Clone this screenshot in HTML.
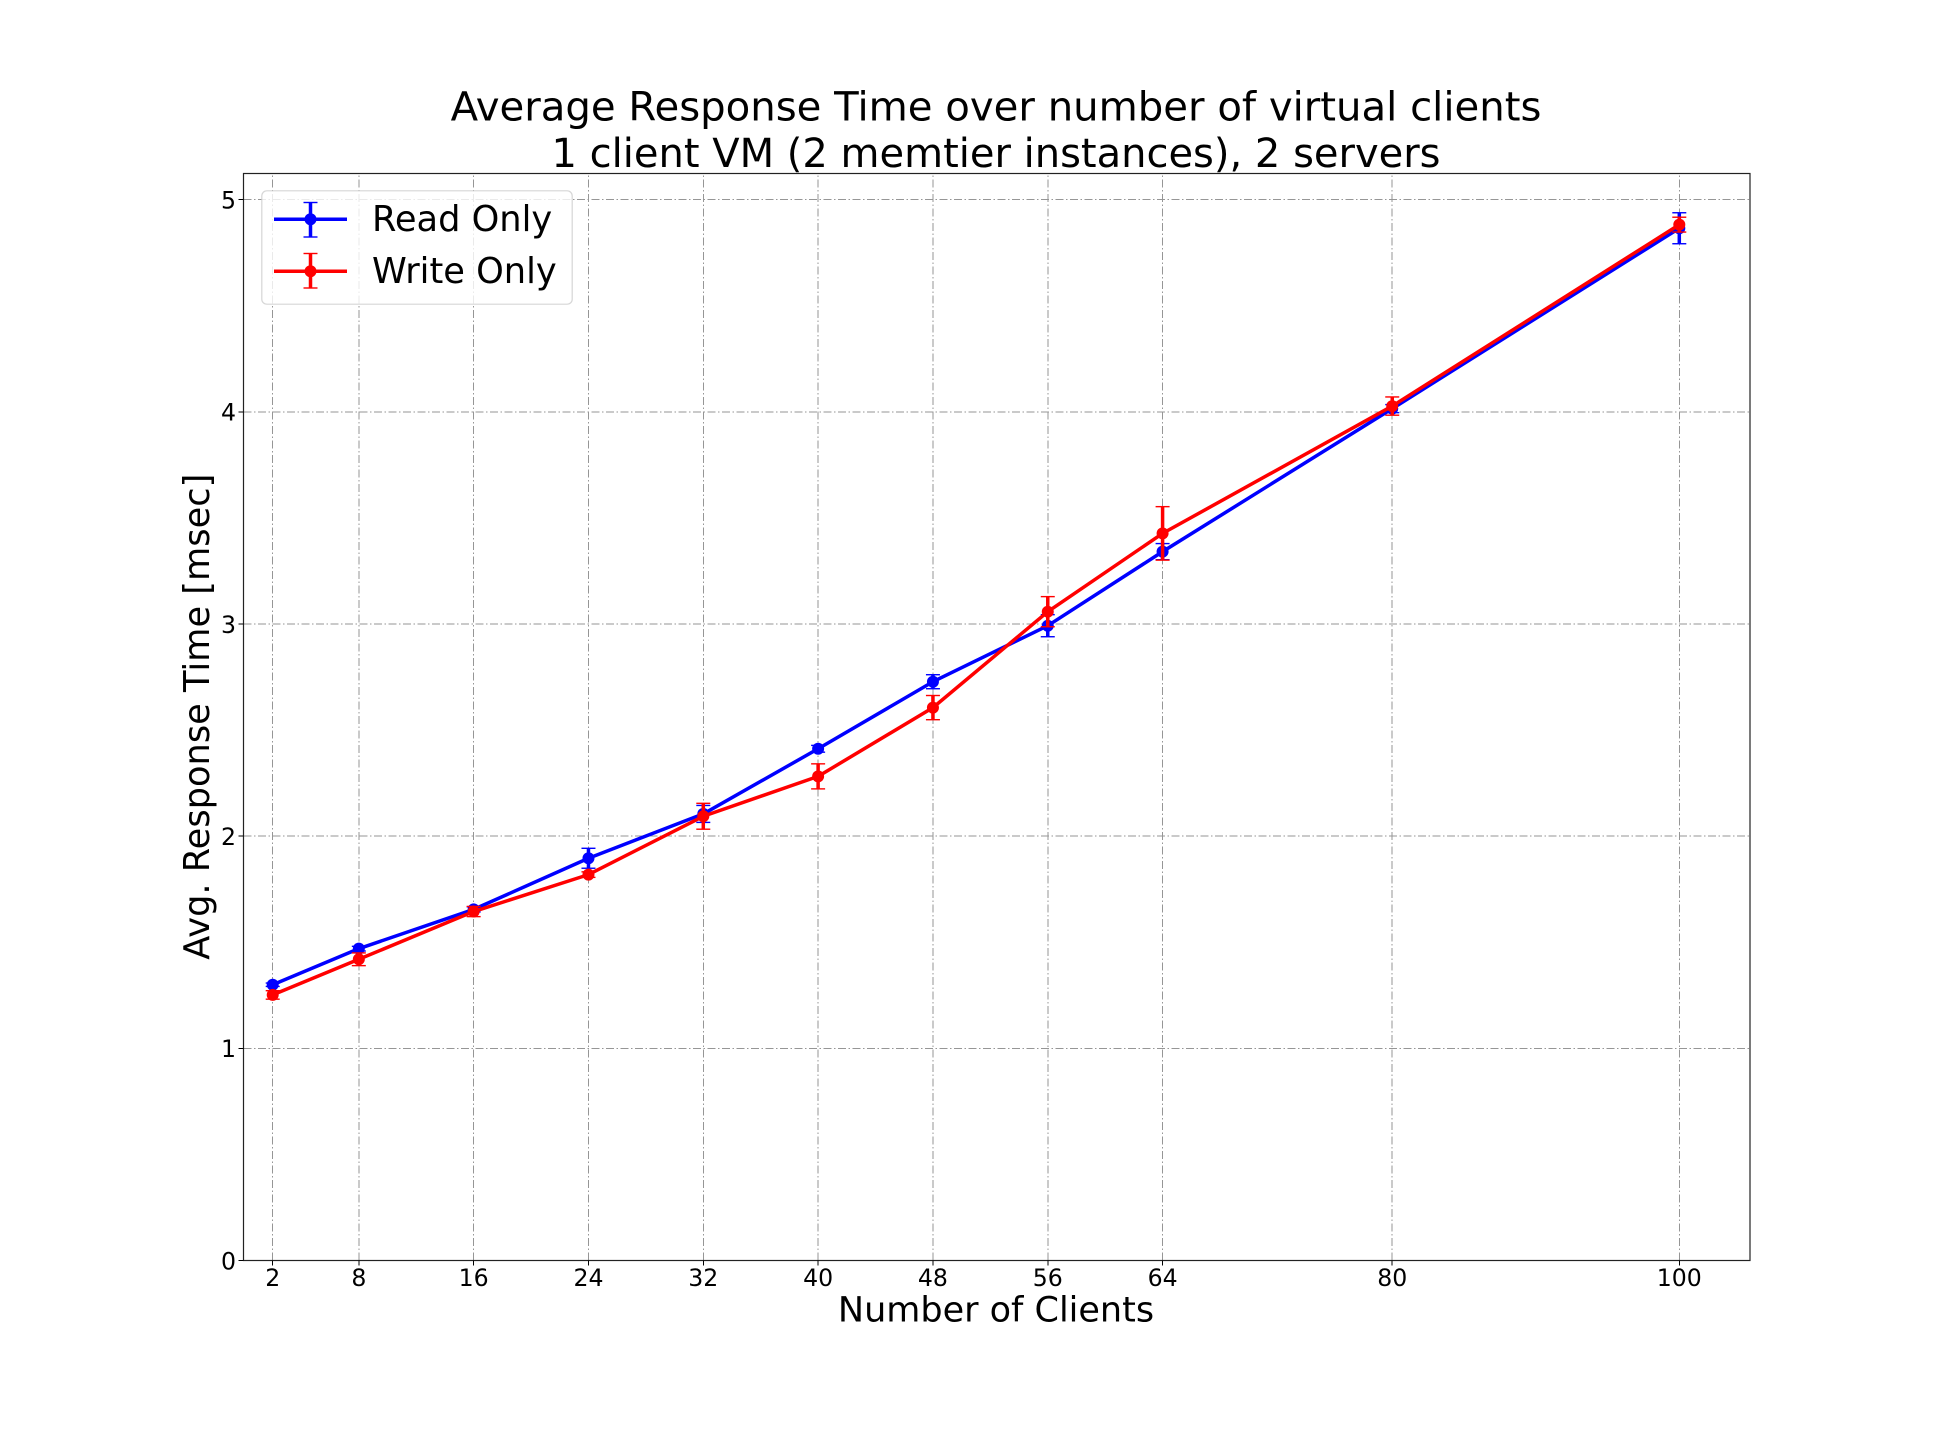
<!DOCTYPE html>
<html lang="en">
<head>
<meta charset="utf-8">
<title>Average Response Time over number of virtual clients</title>
<style>
html,body{margin:0;padding:0;background:#fff;}
svg{display:block;}
text{font-family:"DejaVu Sans","Liberation Sans",sans-serif;fill:#000;}
</style>
</head>
<body>
<svg id="chart" xmlns="http://www.w3.org/2000/svg" width="1944" height="1440" viewBox="0 0 1944 1440">
  <rect x="0" y="0" width="1944" height="1440" fill="#ffffff"/>
  <g id="grid"></g>
  <g id="series"></g>
  <rect x="243.5" y="173.5" width="1506.5" height="1087" fill="none" stroke="#222" stroke-width="1.2"/>
  <g id="ticks"></g>
  <text x="996" y="120.7" font-size="40.2" text-anchor="middle">Average Response Time over number of virtual clients</text>
  <text x="996" y="167" font-size="40.2" text-anchor="middle" textLength="889" lengthAdjust="spacingAndGlyphs">1 client VM (2 memtier instances), 2 servers</text>
  <text x="996" y="1321.6" font-size="35" text-anchor="middle">Number of Clients</text>
  <text x="209" y="716.7" font-size="35.2" text-anchor="middle" transform="rotate(-90 209 716.7)">Avg. Response Time [msec]</text>
  <g>
    <rect x="261.8" y="190.8" width="310.4" height="113.4" rx="5" ry="5" fill="#ffffff" fill-opacity="0.8" stroke="#cccccc" stroke-opacity="0.8" stroke-width="1.2"/>
    <g>
      <line x1="274" y1="219.3" x2="347" y2="219.3" stroke="#0000ff" stroke-width="3.5"/>
      <line x1="310.5" y1="202.5" x2="310.5" y2="237" stroke="#0000ff" stroke-width="3.5"/>
      <line x1="303.5" y1="202.5" x2="317.5" y2="202.5" stroke="#0000ff" stroke-width="1.4"/>
      <line x1="303.5" y1="237" x2="317.5" y2="237" stroke="#0000ff" stroke-width="1.4"/>
      <circle cx="310.5" cy="219.3" r="6" fill="#0000ff"/>
      <text x="372" y="231.2" font-size="35.2">Read Only</text>
    </g>
    <g>
      <line x1="274" y1="271.3" x2="347" y2="271.3" stroke="#ff0000" stroke-width="3.5"/>
      <line x1="310.5" y1="253.5" x2="310.5" y2="288" stroke="#ff0000" stroke-width="3.5"/>
      <line x1="303.5" y1="253.5" x2="317.5" y2="253.5" stroke="#ff0000" stroke-width="1.4"/>
      <line x1="303.5" y1="288" x2="317.5" y2="288" stroke="#ff0000" stroke-width="1.4"/>
      <circle cx="310.5" cy="271.3" r="6" fill="#ff0000"/>
      <text x="372" y="282.8" font-size="35.2">Write Only</text>
    </g>
  </g>
</svg>
<script>
const clients = [2, 8, 16, 24, 32, 40, 48, 56, 64, 80, 100];
const readValues = [1.30, 1.47, 1.655, 1.896, 2.105, 2.412, 2.728, 2.992, 3.341, 4.015, 4.865];
const readErrors = [0.008, 0.011, 0.012, 0.047, 0.04, 0.016, 0.033, 0.052, 0.038, 0.019, 0.073];
const writeValues = [1.252, 1.42, 1.645, 1.819, 2.094, 2.282, 2.606, 3.058, 3.427, 4.027, 4.882];
const writeErrors = [0.02, 0.03, 0.024, 0.013, 0.061, 0.059, 0.057, 0.071, 0.126, 0.043, 0.035];
const yTickValues = [0, 1, 2, 3, 4, 5];
const xTickLabels = ['2', '8', '16', '24', '32', '40', '48', '56', '64', '80', '100'];
const yTickLabels = ['0', '1', '2', '3', '4', '5'];

const NS = 'http://www.w3.org/2000/svg';
const plotLeft = 243.5, plotRight = 1750, plotTop = 173.5, plotBottom = 1260.5;
const xOrigin = 244, xPerUnit = 14.353, yOrigin = 1260.6, yPerUnit = 212.2;
const xScale = function (v) { return xOrigin + v * xPerUnit; };
const yScale = function (v) { return yOrigin - v * yPerUnit; };

function mk(tag, attrs, parent) {
  const node = document.createElementNS(NS, tag);
  Object.keys(attrs).forEach(function (k) { node.setAttribute(k, attrs[k]); });
  parent.appendChild(node);
  return node;
}

const gridLayer = document.getElementById('grid');
const tickLayer = document.getElementById('ticks');
const seriesLayer = document.getElementById('series');
const gridStyle = { stroke: '#969696', 'stroke-width': 1, 'stroke-dasharray': '8 2.5 1.5 2.5', fill: 'none', 'shape-rendering': 'crispEdges' };

clients.forEach(function (c, i) {
  const x = xScale(c);
  const g = mk('line', Object.assign({ x1: x, x2: x, y1: plotBottom, y2: plotTop }, gridStyle), gridLayer);
  
  
  const t = mk('line', { x1: x, x2: x, y1: plotBottom, y2: plotBottom + 5, stroke: '#000', 'stroke-width': 1, 'shape-rendering': 'crispEdges' }, tickLayer);
  
  
  const l = mk('text', { x: x, y: 1285.8, 'font-size': 23.6, 'text-anchor': 'middle' }, tickLayer);
  
  
  l.textContent = xTickLabels[i];
});

yTickValues.forEach(function (v, i) {
  const y = yScale(v);
  if (v > 0) {
    const g = mk('line', Object.assign({ x1: plotLeft, x2: plotRight, y1: y, y2: y }, gridStyle), gridLayer);
    
    
  }
  const t = mk('line', { x1: plotLeft - 5, x2: plotLeft, y1: y, y2: y, stroke: '#000', 'stroke-width': 1, 'shape-rendering': 'crispEdges' }, tickLayer);
  
  
  const l = mk('text', { x: 236, y: y + 8.8, 'font-size': 23.6, 'text-anchor': 'end' }, tickLayer);
  
  
  l.textContent = yTickLabels[i];
});

function drawSeries(values, errors, color, key) {
  const group = mk('g', {}, seriesLayer);
  
  
  const pts = clients.map(function (c, i) { return xScale(c) + ',' + yScale(values[i]); }).join(' ');
  const line = mk('polyline', { points: pts, fill: 'none', stroke: color, 'stroke-width': 3.5, 'stroke-linejoin': 'round' }, group);
  
  
  clients.forEach(function (c, i) {
    const x = xScale(c);
    const yHi = yScale(values[i] + errors[i]);
    const yLo = yScale(values[i] - errors[i]);
    const bar = mk('line', { x1: x, x2: x, y1: yHi, y2: yLo, stroke: color, 'stroke-width': 3.5 }, group);
    
    
    const capTop = mk('line', { x1: x - 7, x2: x + 7, y1: yHi, y2: yHi, stroke: color, 'stroke-width': 1.4 }, group);
    
    
    const capBottom = mk('line', { x1: x - 7, x2: x + 7, y1: yLo, y2: yLo, stroke: color, 'stroke-width': 1.4 }, group);
    
    
    const dot = mk('circle', { cx: x, cy: yScale(values[i]), r: 6, fill: color }, group);
    
    
  });
}

drawSeries(readValues, readErrors, '#0000ff', 'read-only');
drawSeries(writeValues, writeErrors, '#ff0000', 'write-only');
</script>
</body>
</html>
